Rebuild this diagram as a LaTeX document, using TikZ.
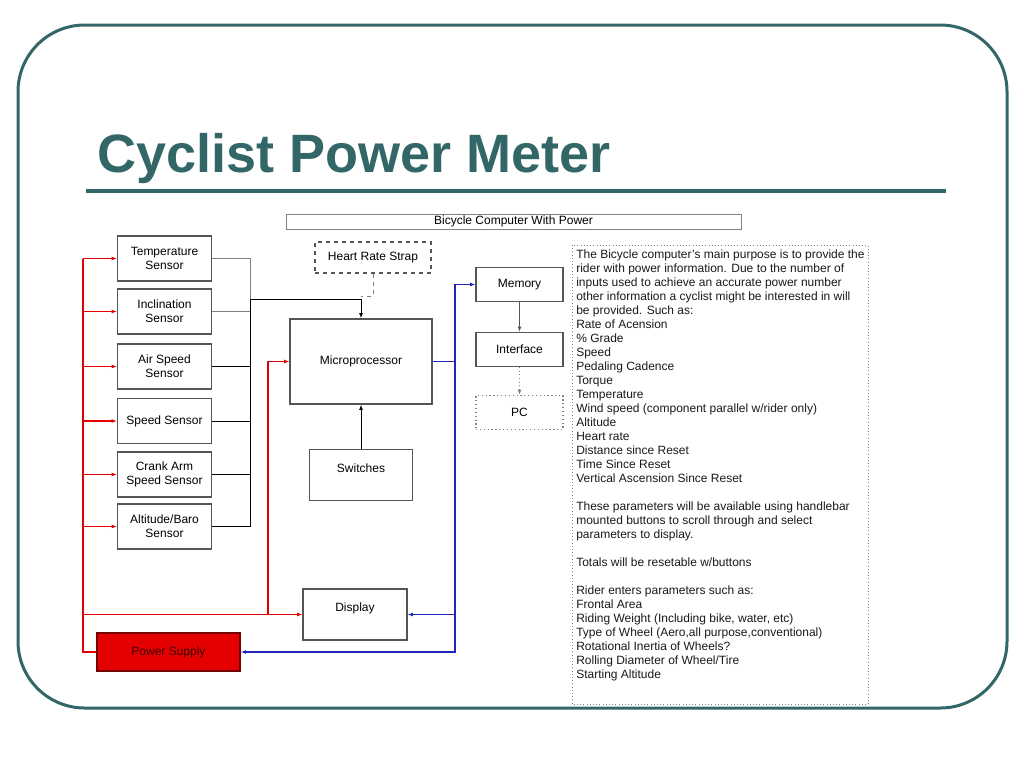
\documentclass[tikz,border=0pt]{standalone}
\usepackage{fontspec}
\setmainfont{Liberation Sans}
\usetikzlibrary{arrows.meta}

\definecolor{slide}{RGB}{51,102,102}
\definecolor{wirered}{RGB}{228,0,0}
\definecolor{wireblue}{RGB}{35,35,190}
\definecolor{boxgray}{RGB}{85,85,85}
\definecolor{psutext}{RGB}{60,0,0}

\tikzset{
  blk/.style={draw=boxgray, fill=white, line width=0.9pt, inner sep=0pt, align=center,
    font=\fontsize{9}{10.5}\selectfont},
  sensor/.style={blk, minimum width=70.5pt, minimum height=33.75pt},
  smallbox/.style={blk, minimum width=65.25pt, minimum height=25.5pt},
  wire/.style={black, line width=0.75pt},
  redwire/.style={wirered, line width=0.9pt},
  bluewire/.style={wireblue, line width=0.9pt}
}

\begin{document}
\begin{tikzpicture}[x=0.75pt, y=-0.75pt, >={Latex[length=4pt,width=3pt]}]
\useasboundingbox (0,0) rectangle (1024,768);

% slide frame and title
\draw[slide, line width=2.25pt, rounded corners=50pt] (18,25) rectangle (1007,708);
\node[anchor=base west, inner sep=0pt, text=slide, font=\fontsize{40.5}{45}\selectfont\bfseries] (title) at (97,172) {Cyclist Power Meter};
\draw[slide, line width=3pt] (86,191) -- (946,191);

% header
\node[blk, draw=gray, line width=0.75pt, minimum width=341.25pt, minimum height=11.25pt] (header) at (513.5,221.5) {Bicycle Computer With Power};

% sensors
\node[sensor] (temp) at (164.5,258.5) {Temperature\\Sensor};
\node[sensor] (incl) at (164.5,311.5) {Inclination\\Sensor};
\node[sensor] (air) at (164.5,366.5) {Air Speed\\Sensor};
\node[sensor] (spd) at (164.5,421) {Speed Sensor};
\node[sensor] (crank) at (164.5,474.5) {Crank Arm\\Speed Sensor};
\node[sensor] (alt) at (164.5,526.5) {Altitude/Baro\\Sensor};

% middle column
\node[blk, dashed, minimum width=87pt, minimum height=23.25pt] (hrs) at (373,257.5) {Heart Rate Strap};
\node[blk, minimum width=106.5pt, minimum height=63.75pt] (micro) at (361,361.5) {Microprocessor};
\node[blk, minimum width=77.25pt, minimum height=38.25pt] (sw) at (361,475) {Switches\\\mbox{}};
\node[blk, minimum width=78pt, minimum height=38.25pt] (disp) at (355,614.5) {Display\\\mbox{}};
\node[blk, fill=wirered, draw=red!45!black, minimum width=107.25pt, minimum height=28.5pt] (psu) at (168.5,652) {\color{psutext}Power Supply};

% right column
\node[smallbox] (mem) at (519.5,284.5) {Memory};
\node[smallbox] (iface) at (519.5,349.5) {Interface};
\node[smallbox, draw=gray, dotted] (pc) at (519.5,412.5) {PC};

% power lines
\coordinate (rbus) at (83,0);
\coordinate (rbus2) at (268,0);
\draw[wirered, line width=1.5pt] (psu.west) -| (rbus |- temp.west);
\draw[redwire, ->] (rbus |- temp.west) -- (temp.west);
\draw[redwire, ->] (rbus |- incl.west) -- (incl.west);
\draw[redwire, ->] (rbus |- air.west) -- (air.west);
\draw[redwire, ->] (rbus |- spd.west) -- (spd.west);
\draw[redwire, ->] (rbus |- crank.west) -- (crank.west);
\draw[redwire, ->] (rbus |- alt.west) -- (alt.west);
\draw[redwire, ->] (rbus |- disp.west) -- (disp.west);
\draw[redwire, ->] (rbus2 |- disp.west) |- (micro.west);

% sensor bus
\coordinate (kbus) at (250,0);
\coordinate (kjoin) at (250,299);
\coordinate (hrjoin) at (361,296);
\draw[wire, gray] (temp.east) -| (kjoin);
\draw[wire, gray] (incl.east) -- (kbus |- incl.east);
\draw[wire] (kjoin) -- (kbus |- alt.east) -- (alt.east);
\draw[wire] (air.east) -- (kbus |- air.east);
\draw[wire] (spd.east) -- (kbus |- spd.east);
\draw[wire] (crank.east) -- (kbus |- crank.east);
\draw[wire, ->] (kjoin) -| (micro.north);
\draw[wire, gray, dashed] (hrs.south) |- (hrjoin);
\draw[wire, ->] (sw.north) -- (micro.south);

% data out
\coordinate (bbus) at (455,0);
\draw[bluewire] (micro.east) -- (bbus |- micro.east);
\draw[bluewire, ->] (bbus |- micro.east) |- (mem.west);
\draw[bluewire, ->] (bbus |- micro.east) |- (psu.east);
\draw[bluewire, ->] (bbus |- disp.east) -- (disp.east);
\draw[wire, boxgray, ->] (mem.south) -- (iface.north);
\draw[wire, gray, dotted, ->] (iface.south) -- (pc.north);

% notes
\draw[gray, dotted] (572,245) rectangle (868,704);
\node[anchor=north west, align=left, inner sep=0pt, text=black!90, font=\fontsize{9}{10.5}\selectfont] (notes) at (576,250) {%
The Bicycle computer's main purpose is to provide the\\
rider with power information. Due to the number of\\
inputs used to achieve an accurate power number\\
other information a cyclist might be interested in will\\
be provided. Such as:\\
Rate of Acension\\
\% Grade\\
Speed\\
Pedaling Cadence\\
Torque\\
Temperature\\
Wind speed (component parallel w/rider only)\\
Altitude\\
Heart rate\\
Distance since Reset\\
Time Since Reset\\
Vertical Ascension Since Reset\\[10.5pt]
These parameters will be available using handlebar\\
mounted buttons to scroll through and select\\
parameters to display.\\[10.5pt]
Totals will be resetable w/buttons\\[10.5pt]
Rider enters parameters such as:\\
Frontal Area\\
Riding Weight (Including bike, water, etc)\\
Type of Wheel (Aero,all purpose,conventional)\\
Rotational Inertia of Wheels?\\
Rolling Diameter of Wheel/Tire\\
Starting Altitude};

\end{tikzpicture}
\end{document}
